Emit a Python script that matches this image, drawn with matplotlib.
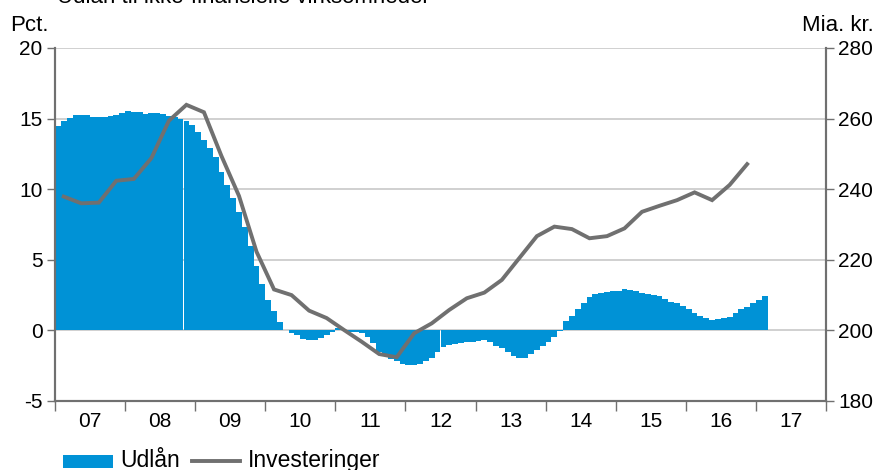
import matplotlib
matplotlib.use("Agg")
import matplotlib.pyplot as plt
from matplotlib.patches import Rectangle
from matplotlib.lines import Line2D
import numpy as np

plt.rcParams['font.family'] = ['Liberation Sans', 'DejaVu Sans']

# Monthly lending growth (Pct.), Jan 2007 - Feb 2017
udlaan = [14.45, 14.8, 15.06, 15.27, 15.27, 15.27, 15.1, 15.1, 15.1, 15.2, 15.27, 15.4,
          15.55, 15.5, 15.45, 15.3, 15.4, 15.38, 15.35, 15.2, 15.1, 14.97, 14.8, 14.54,
          14.02, 13.5, 12.9, 12.3, 11.2, 10.27, 9.35, 8.36, 7.3, 5.95, 4.53, 3.26,
          2.12, 1.34, 0.63, 0.05, -0.19, -0.35, -0.59, -0.66, -0.66, -0.54, -0.35, -0.12,
          0.17, 0.05, -0.12, -0.14, -0.2, -0.45, -0.9, -1.5, -1.8, -2.0, -2.2, -2.4,
          -2.45, -2.45, -2.35, -2.15, -1.95, -1.5, -1.15, -1.0, -0.95, -0.9, -0.85, -0.83,
          -0.75, -0.66, -0.83, -1.12, -1.27, -1.56, -1.82, -1.94, -1.94, -1.65, -1.42, -1.12,
          -0.83, -0.47, -0.05, 0.64, 1.01, 1.49, 1.91, 2.34, 2.55, 2.62, 2.71, 2.76,
          2.76, 2.9, 2.83, 2.76, 2.67, 2.6, 2.53, 2.41, 2.2, 1.98, 1.91, 1.7,
          1.49, 1.2, 0.99, 0.85, 0.71, 0.78, 0.85, 0.92, 1.2, 1.49, 1.63, 1.91,
          2.12, 2.41]

# Quarterly investments (Mia. kr.), 2007Q1 - 2016Q4
investeringer = [237.9, 236.0, 236.2, 242.4, 242.9, 248.8, 259.4, 263.9, 261.8, 249.4,
                 238.1, 222.3, 211.6, 210.0, 205.6, 203.5, 200.1, 196.8, 193.3, 192.4,
                 199.2, 202.0, 205.8, 209.1, 210.7, 214.3, 220.5, 226.7, 229.4, 228.7,
                 226.1, 226.7, 228.9, 233.6, 235.3, 236.9, 239.1, 236.9, 241.2, 247.1]

year_labels = ["07", "08", "09", "10", "11", "12", "13", "14", "15", "16", "17"]
start_year = 2007

bar_x = start_year + (np.arange(len(udlaan)) + 0.5) / 12
line_x = start_year + (np.arange(len(investeringer)) * 3 + 1.5) / 12

W, H = 881, 470
fig = plt.figure(figsize=(W/100, H/100), dpi=100)
ax = fig.add_axes([55/W, 1 - 401/H, (826-55)/W, (401-48)/H])
ax2 = ax.twinx()

blue = '#0092D6'
grey = '#707070'
axis_col = '#707070'
grid_col = '#C8C8C8'
fs = 15

ax.bar(bar_x, udlaan, width=1/12, color=blue, linewidth=0, zorder=2)
ax.set_ylim(-5, 20)
ax.set_xlim(2007, 2018)
ax.set_yticks([-5, 0, 5, 10, 15, 20])
ax.set_yticklabels(["-5", "0", "5", "10", "15", "20"])
for v in [0, 5, 10, 15, 20]:
    ax.axhline(v, color=grid_col, lw=1.2, zorder=1)

ax2.plot(line_x, investeringer, color=grey, lw=2.8, solid_joinstyle='miter', zorder=3)
ax2.set_ylim(180, 280)
ax2.set_yticks([180, 200, 220, 240, 260, 280])

ax.set_xticks(np.arange(2007, 2019), minor=False)
ax.set_xticklabels([])
ax.set_xticks(np.arange(2007, 2018) + 0.5, minor=True)
ax.set_xticklabels(year_labels, minor=True)
ax.tick_params(axis='x', which='minor', length=0, pad=8, labelsize=fs)
ax.tick_params(axis='x', which='major', length=7, width=1, color=axis_col, direction='out')
ax.tick_params(axis='y', length=6, width=1, color=axis_col, direction='out', labelsize=fs, pad=3)
ax2.tick_params(axis='y', length=6, width=1, color=axis_col, direction='out', labelsize=fs, pad=3)

for a in (ax, ax2):
    a.spines['top'].set_visible(False)
    for s in ('left', 'right', 'bottom'):
        a.spines[s].set_color(axis_col)
        a.spines[s].set_linewidth(1.5)

fig.text(10/W, 1 - 31/H, "Pct.", fontsize=16, ha='left', va='baseline')
fig.text(874/W, 1 - 31/H, "Mia. kr.", fontsize=16, ha='right', va='baseline')
fig.text(57/W, 1 - 3/H, "Udlån til ikke-finansielle virksomheder", fontsize=16,
         ha='left', va='baseline')

# Legend (drawn in figure coordinates)
fig.patches.append(Rectangle((63/W, 1 - 468/H), 50/W, 13/H, transform=fig.transFigure,
                             facecolor=blue, edgecolor='none'))
fig.text(120/W, 1 - 467/H, "Udlån", fontsize=16.5, ha='left', va='baseline')
fig.lines.append(Line2D([192/W, 240/W], [1 - 461/H, 1 - 461/H], transform=fig.transFigure,
                        color=grey, lw=2.8))
fig.text(248/W, 1 - 467/H, "Investeringer", fontsize=16.5, ha='left', va='baseline')

fig.savefig("out.png", dpi=100)
